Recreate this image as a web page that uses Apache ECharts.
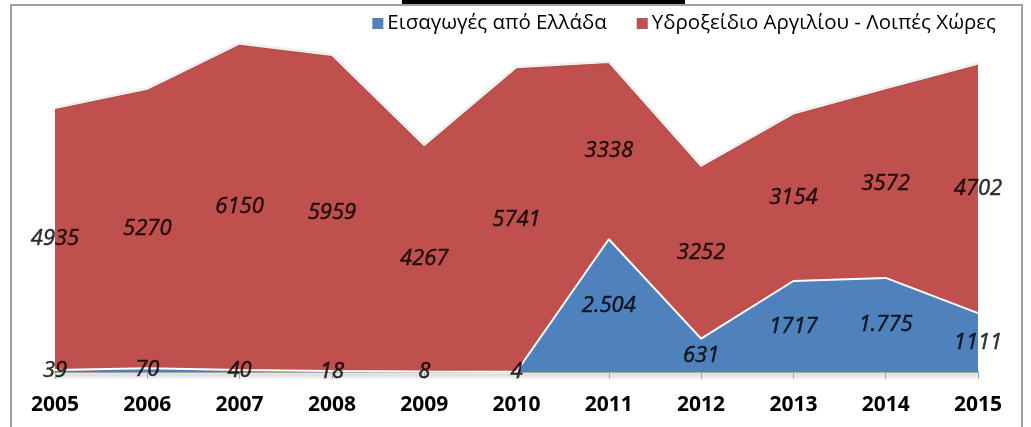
<!DOCTYPE html>
<html>
<head>
<meta charset="utf-8">
<script src="https://cdn.jsdelivr.net/npm/echarts@6/dist/echarts.min.js"></script>
<style>
  html,body{margin:0;padding:0;background:#fff;}
  #main{width:1031px;height:427px;}
</style>
</head>
<body>
<div id="main"></div>
<script>
let years=['2005','2006','2007','2008','2009','2010','2011','2012','2013','2014','2015'];
let greece=[39,70,40,18,8,4,2504,631,1717,1775,1111];
let others=[4935,5270,6150,5959,4267,5741,3338,3252,3154,3572,4702];
// labels as shown in the chart (some carry a thousands dot)
let greeceLabels=['39','70','40','18','8','4','2.504','631','1717','1.775','1111'];
let othersLabels=['4935','5270','6150','5959','4267','5741','3338','3252','3154','3572','4702'];

let nameGreece='Εισαγωγές από Ελλάδα';
let nameOthers='Υδροξείδιο Αργιλίου - Λοιπές Χώρες';

// label anchors at the middle of each stacked band
let greeceMid=greece.map((v,i)=>[years[i],v/2]);
let othersMid=others.map((v,i)=>[years[i],greece[i]+v/2]);

let labelStyle={
    show:true,
    position:'inside',
    fontFamily:'Open Sans',
    fontStyle:'italic',
    fontSize:22,
    color:'#000',
    textBorderColor:'#000',
    textBorderWidth:0.5
};

let myChart=echarts.init(document.getElementById('main'));
let option={
    animation:false,
    legend:{
        data:[nameGreece,nameOthers],
        top:8,
        right:30,
        itemWidth:11,
        itemHeight:11,
        itemGap:30,
        icon:'rect',
        textStyle:{fontFamily:'Open Sans',fontSize:20.5,color:'#000',padding:[0,0,0,-1]}
    },
    grid:{left:55,right:53,top:1,bottom:55},
    xAxis:{
        type:'category',
        data:years,
        boundaryGap:false,
        axisLine:{lineStyle:{color:'#a6a6a6',width:2,shadowColor:'rgba(0,0,0,0.35)',shadowBlur:4,shadowOffsetY:3}},
        axisTick:{show:true,length:7,lineStyle:{color:'#a6a6a6'}},
        axisLabel:{fontFamily:'Open Sans',fontWeight:'bold',fontSize:21,color:'#000',margin:23}
    },
    yAxis:{type:'value',min:0,max:7000,show:false,splitLine:{show:false}},
    series:[
        {
            name:nameGreece,
            type:'line',
            stack:'total',
            data:greece,
            symbol:'none',
            itemStyle:{color:'#4f81bd'},
            lineStyle:{color:'#fff',width:2},
            areaStyle:{color:'#4f81bd',opacity:1},
            z:3
        },
        {
            name:nameOthers,
            type:'line',
            stack:'total',
            data:others,
            symbol:'none',
            itemStyle:{color:'#c0504d'},
            lineStyle:{color:'#f2f2f2',width:1.5,shadowColor:'rgba(0,0,0,0.25)',shadowBlur:2},
            areaStyle:{color:'#c0504d',opacity:1},
            z:2
        },
        {
            type:'scatter',
            data:greeceMid,
            symbolSize:0,
            itemStyle:{color:'#000'},
            label:Object.assign({},labelStyle,{formatter:p=>greeceLabels[p.dataIndex]}),
            z:5,silent:true
        },
        {
            type:'scatter',
            data:othersMid,
            symbolSize:0,
            itemStyle:{color:'#000'},
            label:Object.assign({},labelStyle,{formatter:p=>othersLabels[p.dataIndex]}),
            z:5,silent:true
        }
    ],
    graphic:[
        {type:'rect',shape:{x:11,y:5,width:1011,height:440},style:{fill:'none',stroke:'#a0a0a0',lineWidth:2},z:-1},
        {type:'rect',shape:{x:402,y:0,width:283,height:4},style:{fill:'#000'}}
    ]
};
myChart.setOption(option);
</script>
</body>
</html>
